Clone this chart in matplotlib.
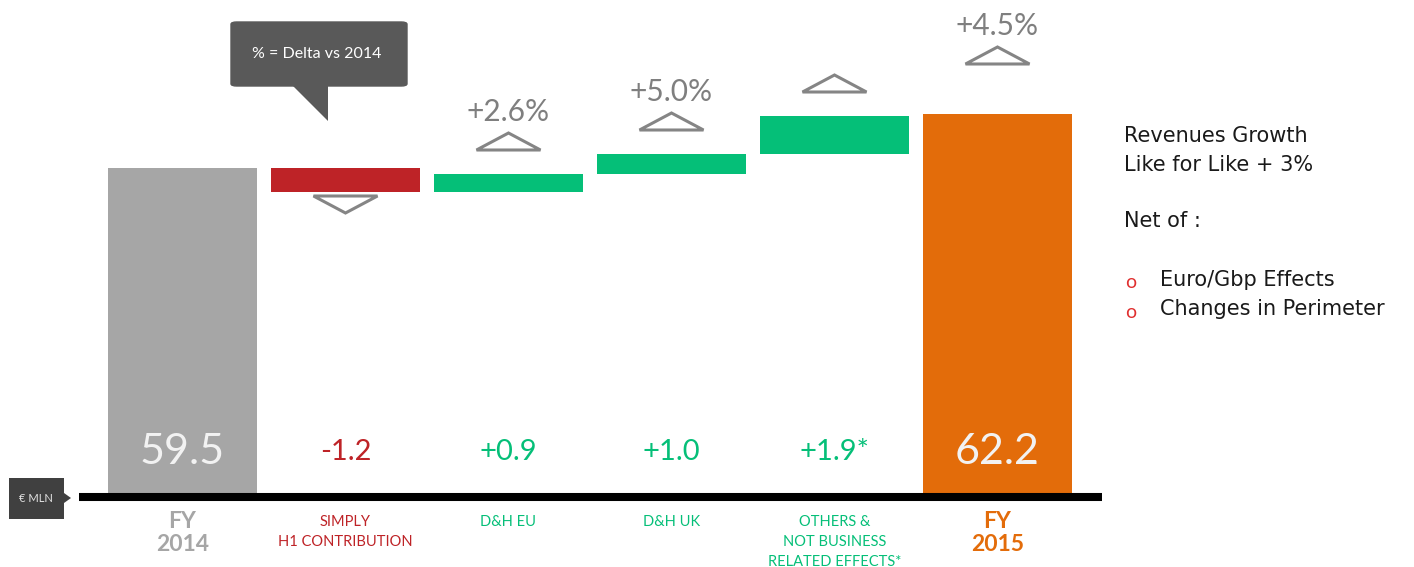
import numpy as np
import matplotlib
matplotlib.use("Agg")
import matplotlib.pyplot as plt
from matplotlib.patches import Polygon, FancyBboxPatch

# data
labels = ["FY\n2014", "SIMPLY\nH1 CONTRIBUTION", "D&H EU", "D&H UK",
          "OTHERS &\nNOT BUSINESS\nRELATED EFFECTS*", "FY\n2015"]
start_value = 59.5
deltas = [-1.2, 0.9, 1.0, 1.9]
end_value = 62.2
value_text = ["59.5", "-1.2", "+0.9", "+1.0", "+1.9*", "62.2"]
pct_text = ["", "", "+2.6%", "+5.0%", "", "+4.5%"]
show_tri = [False, True, True, True, True, True]
notes = ["Revenues Growth", "Like for Like + 3%", "Net of :"]
bullets = ["Euro/Gbp Effects", "Changes in Perimeter"]

GREY = "#a6a6a6"
RED = "#be2327"
GREEN = "#05bf78"
ORANGE = "#e36c0a"
TRI = "#858585"
FONT = "Lato"
SIDE_FONT = "DejaVu Sans"

W, H = 1414, 567
fig = plt.figure(figsize=(W / 100, H / 100), dpi=100)
ax = fig.add_axes([0, 0, 1, 1])
ax.axis("off")

# axis mapping: centre of bar i at 182.5 + 163*i px, 20 px per unit, baseline 43.05 at y=497
base = 43.05
ax.set_xlim(-182.5 / 163, (W - 182.5) / 163)
ax.set_ylim(base - (H - 497) / 20, base + 497 / 20)

n = len(labels)
x = np.arange(n)
bottoms, heights, colors = [], [], []
bottoms.append(base); heights.append(start_value - base); colors.append(GREY)
cum = start_value
for d in deltas:
    if d < 0:
        bottoms.append(cum + d); colors.append(RED)
    else:
        bottoms.append(cum); colors.append(GREEN)
    heights.append(abs(d))
    cum += d
bottoms.append(base); heights.append(end_value - base); colors.append(ORANGE)

width = 149 / 163
ax.bar(x, heights, width, bottom=bottoms, color=colors, zorder=2)

# baseline
ax.plot([(79 - 182.5) / 163, (1102 - 182.5) / 163], [base, base], color="black",
        lw=5.8, solid_capstyle="butt", zorder=3)

# value labels
val_y = base + (497 - 452) / 20
for i in range(n):
    if i in (0, n - 1):
        ax.text(x[i], val_y, value_text[i], ha="center", va="center", fontsize=31,
                color="#f2f2f2", family=FONT)
    else:
        ax.text(x[i], val_y, value_text[i], ha="center", va="center", fontsize=21,
                color=colors[i], family=FONT)

# triangles and percentages
hw, th = 32 / 163, 17 / 20
for i in range(n):
    if not show_tri[i]:
        continue
    top = bottoms[i] + heights[i]
    if 0 < i < n - 1 and deltas[i - 1] < 0:
        y0 = bottoms[i] - 0.2
        pts = [(x[i] - hw, y0), (x[i] + hw, y0), (x[i], y0 - th)]
        ytxt = None
    else:
        gap = 2.5 if i == n - 1 else 1.2
        y0 = top + gap
        pts = [(x[i] - hw, y0), (x[i] + hw, y0), (x[i], y0 + th)]
        ytxt = y0 + th + 0.35
    ax.add_patch(Polygon(pts, closed=True, fill=False, edgecolor=TRI, lw=2.2, zorder=2))
    if ytxt is not None and pct_text[i]:
        ax.text(x[i], ytxt, pct_text[i], ha="center", va="bottom", fontsize=21.5,
                color="#7f7f7f", family=FONT)

# category labels
for i in range(n):
    if i in (0, n - 1):
        ax.text(x[i], base - 0.7, labels[i], ha="center", va="top", fontsize=16.5,
                fontweight="bold", color=colors[i], family=FONT, linespacing=1.1)
    else:
        ax.text(x[i], base - 0.9, labels[i], ha="center", va="top", fontsize=10.5,
                color=colors[i], family=FONT, linespacing=1.55)


def fx(px):
    return px / W


def fy(py):
    return 1 - py / H


# callout box
fig.patches.append(FancyBboxPatch((fx(231), fy(86)), fx(176), 64 / H,
                                  boxstyle="round,pad=0,rounding_size=0.004",
                                  transform=fig.transFigure, facecolor="#595959",
                                  edgecolor="#595959", figure=fig))
fig.patches.append(Polygon([(fx(293), fy(86)), (fx(328), fy(86)), (fx(328), fy(121))],
                           closed=True, transform=fig.transFigure,
                           facecolor="#595959", edgecolor="none", figure=fig))
fig.text(fx(317), fy(54), "% = Delta vs 2014", ha="center", va="center", fontsize=11.5,
         color="white", family=FONT)

# unit tag
fig.patches.append(Polygon([(fx(9), fy(478)), (fx(64), fy(478)), (fx(64), fy(493)),
                            (fx(71), fy(498)), (fx(64), fy(503)), (fx(64), fy(519)),
                            (fx(9), fy(519))], closed=True, transform=fig.transFigure,
                           facecolor="#404040", edgecolor="none", figure=fig))
fig.text(fx(36), fy(498), "€ MLN", ha="center", va="center", fontsize=8,
         color="#e0e0e0", family=FONT)

# side notes
for py, t in zip([136, 165, 221], notes):
    fig.text(fx(1124), fy(py), t, ha="left", va="center", fontsize=15,
             color="#1a1a1a", family=SIDE_FONT)
for py, t in zip([280, 309], bullets):
    fig.text(fx(1131), fy(py + 3), "o", ha="center", va="center", fontsize=14,
             color="#e03030", family=FONT)
    fig.text(fx(1160), fy(py), t, ha="left", va="center", fontsize=15,
             color="#1a1a1a", family=SIDE_FONT)

fig.savefig("out.png", dpi=100)
